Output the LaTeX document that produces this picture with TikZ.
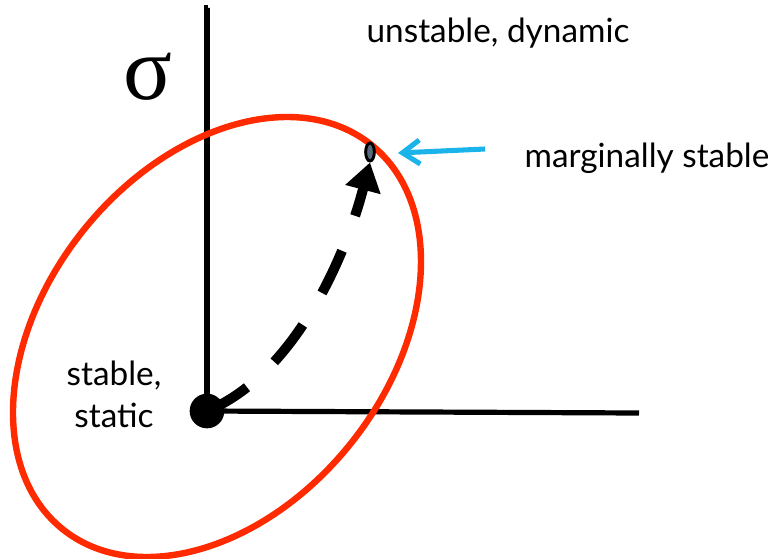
\documentclass[tikz,border=0pt]{standalone}
\usepackage{fontspec}
\setmainfont{Lato}
\newfontfamily\sigmafont{Liberation Serif}
\usetikzlibrary{arrows.meta, shapes.geometric}
\definecolor{ellred}{HTML}{FF2A00}
\definecolor{arrcyan}{HTML}{1AB4EA}
\definecolor{dotgray}{HTML}{5A6A80}
\tikzset{
  axis/.style={line width=3.9pt, line cap=butt},
  lbl/.style={font=\fontsize{25}{31.5}\selectfont, inner sep=0pt},
}
\begin{document}
\begin{tikzpicture}[x=0.75pt, y=-0.75pt]
\useasboundingbox (0,0) rectangle (776,558);
% axes
\coordinate (vtop) at (208,8);
\coordinate (hend) at (639,413);
\node[circle, fill=black, minimum size=26pt, inner sep=0pt] (o) at (207,411) {};
\draw[axis] (vtop) -- (o.center |- vtop) -- (o.center);
\draw[axis] (o.center) -- (hend);
% red ellipse
\coordinate (c) at (217,337);
\draw[ellred, line width=4.8pt, rotate around={51.2:(c)}] (c) ellipse [x radius=246.5, y radius=171];
% sigma
\node[font=\sigmafont\fontsize{68}{68}\selectfont, inner sep=0pt] (sig) at (148,77) {σ};
% marginal point
\node[ellipse, draw=black, fill=dotgray, line width=2.2pt, minimum width=6.5pt, minimum height=13.5pt, inner sep=0pt] (m) at (370,152) {};
% dashed trajectory
\draw[line width=7.5pt, dash pattern=on 35pt off 28pt, -{Triangle[length=21pt, width=26pt]}]
  (o.center) .. controls (292,376) and (344,262) .. (m.south);
% cyan arrow
\coordinate (cs) at (485,149);
\coordinate (ct) at (398,153);
\draw[arrcyan, line width=3.8pt, -{Straight Barb[length=13pt, width=18pt, line width=3.8pt]}] (cs) -- (ct);
% labels
\node[lbl, anchor=base] (unst) at (498,42) {unstable, dynamic};
\node[lbl, anchor=base] (marg) at (647,167) {marginally stable};
\node[lbl, align=center] (stab) at (114,394) {stable,\\static};
\end{tikzpicture}
\end{document}
